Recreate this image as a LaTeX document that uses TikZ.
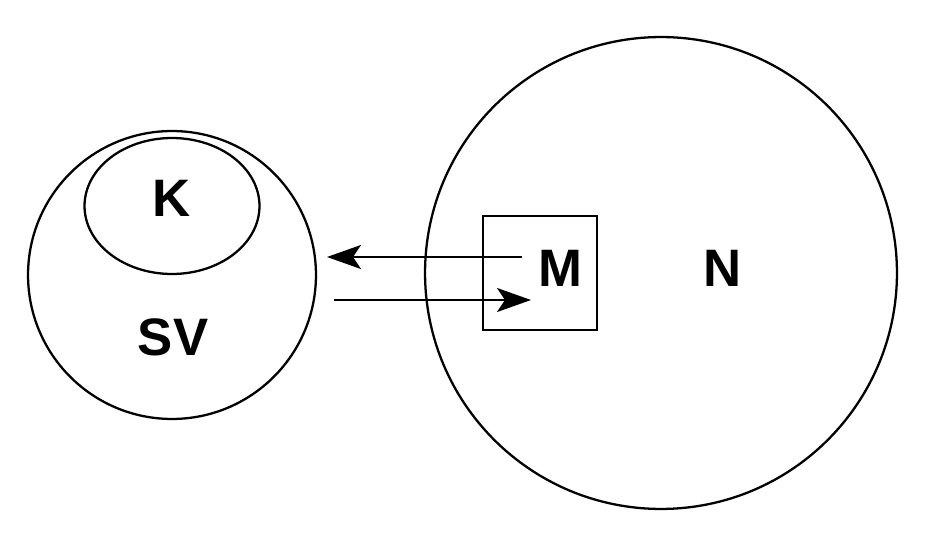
\documentclass[tikz,border=0pt]{standalone}
\usepackage{fontspec}
\setmainfont{Liberation Sans}
\usetikzlibrary{arrows.meta, positioning, shapes.geometric}

\begin{document}
\begin{tikzpicture}[
        x=0.02cm, y=-0.02cm,
        conjunto/.style={
            draw,
            line width=1.3pt,
            inner sep=0pt
        },
        etiqueta/.style={
            font=\fontsize{30}{36}\selectfont\bfseries
        },
        flecha/.style={
            line width=1.3pt,
            -{Stealth[length=6.8mm, width=4.8mm, inset=1.6mm]}
        }
    ]
        \useasboundingbox (0,0) rectangle (926,540);
        % conjuntos
        \node[conjunto, circle, minimum size=5.76cm] (sv) at (172,275) {};
        \node[conjunto, ellipse, minimum width=3.5cm, minimum height=2.72cm] (k) at (172,206) {};
        \node[conjunto, circle, minimum size=9.44cm] (n) at (661,273) {};
        \node[conjunto, rectangle, minimum size=2.28cm] (m) at (540,273) {};
        % etiquetas
        \node[etiqueta] (k-texto) at (172,198) {K};
        \node[etiqueta] (sv-texto) at (173,337) {SV};
        \node[etiqueta] (m-texto) at (560,268) {M};
        \node[etiqueta] (n-texto) at (723,268) {N};
        % flechas
        \coordinate (m-sale) at (522,257);
        \coordinate (sv-entra) at (327,257);
        \coordinate (sv-sale) at (334,300);
        \coordinate (m-entra) at (531,300);
        \draw[flecha] (m-sale) -- (sv-entra);
        \draw[flecha] (sv-sale) -- (m-entra);
    \end{tikzpicture}
\end{document}
